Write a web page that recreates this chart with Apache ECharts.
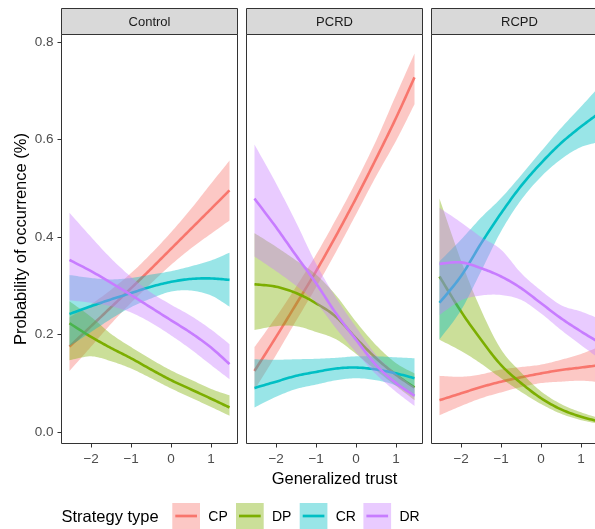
<!DOCTYPE html>
<html>
<head>
<meta charset="utf-8">
<script src="https://cdn.jsdelivr.net/npm/echarts@6/dist/echarts.min.js"></script>
<style>
  html, body { margin: 0; padding: 0; background: #ffffff; }
  #chart { width: 595px; height: 529px; }
</style>
</head>
<body>
<div id="chart"></div>
<script>
// Generalized trust values at which the fitted curves are evaluated
const trust = [-2.54, -2, -1.5, -1, -0.5, 0, 0.5, 1, 1.46];

const panels = ['Control', 'PCRD', 'RCPD'];
const strategies = ['CP', 'DP', 'CR', 'DR'];
const strategyColors = ['#F8766D', '#7CAE00', '#00BFC4', '#C77CFF'];

const xTicks = [-2, -1, 0, 1];
const yTicks = [0, 0.2, 0.4, 0.6, 0.8];

// ---- Control ----
const controlCP     = [0.175, 0.217, 0.256, 0.295, 0.335, 0.376, 0.417, 0.458, 0.496];
const controlCPLow  = [0.125, 0.175, 0.222, 0.265, 0.305, 0.343, 0.377, 0.407, 0.434];
const controlCPHigh = [0.235, 0.262, 0.292, 0.326, 0.366, 0.410, 0.458, 0.510, 0.557];
const controlDP     = [0.223, 0.195, 0.172, 0.151, 0.128, 0.106, 0.087, 0.068, 0.050];
const controlDPLow  = [0.147, 0.155, 0.145, 0.130, 0.110, 0.089, 0.070, 0.051, 0.033];
const controlDPHigh = [0.268, 0.236, 0.201, 0.174, 0.149, 0.126, 0.107, 0.088, 0.075];
const controlCR     = [0.242, 0.258, 0.272, 0.285, 0.298, 0.308, 0.314, 0.315, 0.312];
const controlCRLow  = [0.176, 0.205, 0.232, 0.256, 0.274, 0.288, 0.290, 0.280, 0.257];
const controlCRHigh = [0.322, 0.316, 0.313, 0.316, 0.323, 0.330, 0.340, 0.352, 0.368];
const controlDR     = [0.353, 0.330, 0.306, 0.281, 0.255, 0.229, 0.203, 0.173, 0.139];
const controlDRLow  = [0.270, 0.265, 0.258, 0.245, 0.224, 0.198, 0.169, 0.137, 0.108];
const controlDRHigh = [0.450, 0.400, 0.356, 0.318, 0.286, 0.261, 0.238, 0.210, 0.180];

// ---- PCRD ----
const pcrdCP     = [0.125, 0.195, 0.262, 0.330, 0.403, 0.480, 0.561, 0.645, 0.728];
const pcrdCPLow  = [0.086, 0.158, 0.228, 0.297, 0.370, 0.447, 0.525, 0.598, 0.673];
const pcrdCPHigh = [0.174, 0.236, 0.298, 0.364, 0.437, 0.514, 0.598, 0.692, 0.777];
const pcrdDP     = [0.303, 0.298, 0.285, 0.264, 0.236, 0.192, 0.151, 0.117, 0.091];
const pcrdDPLow  = [0.209, 0.217, 0.217, 0.205, 0.190, 0.160, 0.126, 0.094, 0.065];
const pcrdDPHigh = [0.408, 0.380, 0.352, 0.323, 0.280, 0.226, 0.178, 0.141, 0.120];
const pcrdCR     = [0.090, 0.103, 0.115, 0.123, 0.130, 0.132, 0.128, 0.120, 0.110];
const pcrdCRLow  = [0.050, 0.072, 0.088, 0.097, 0.106, 0.110, 0.106, 0.095, 0.072];
const pcrdCRHigh = [0.149, 0.148, 0.149, 0.150, 0.152, 0.155, 0.155, 0.153, 0.151];
const pcrdDR     = [0.479, 0.420, 0.362, 0.305, 0.243, 0.189, 0.137, 0.100, 0.074];
const pcrdDRLow  = [0.360, 0.330, 0.300, 0.265, 0.212, 0.163, 0.118, 0.082, 0.053];
const pcrdDRHigh = [0.590, 0.510, 0.430, 0.345, 0.275, 0.215, 0.158, 0.120, 0.092];

// ---- RCPD ----
const rcpdCP     = [0.065, 0.079, 0.092, 0.103, 0.112, 0.120, 0.127, 0.132, 0.137];
const rcpdCPLow  = [0.034, 0.053, 0.069, 0.081, 0.092, 0.100, 0.103, 0.105, 0.102];
const rcpdCPHigh = [0.115, 0.113, 0.118, 0.128, 0.133, 0.138, 0.148, 0.160, 0.175];
const rcpdDP     = [0.319, 0.247, 0.189, 0.137, 0.100, 0.069, 0.046, 0.031, 0.021];
const rcpdDPLow  = [0.189, 0.166, 0.140, 0.110, 0.082, 0.057, 0.037, 0.024, 0.016];
const rcpdDPHigh = [0.479, 0.351, 0.250, 0.169, 0.122, 0.083, 0.057, 0.040, 0.028];
const rcpdCR     = [0.265, 0.320, 0.387, 0.449, 0.505, 0.552, 0.593, 0.627, 0.655];
const rcpdCRLow  = [0.190, 0.250, 0.330, 0.412, 0.476, 0.524, 0.560, 0.585, 0.595];
const rcpdCRHigh = [0.350, 0.395, 0.440, 0.480, 0.527, 0.576, 0.624, 0.668, 0.710];
const rcpdDR     = [0.345, 0.348, 0.336, 0.319, 0.295, 0.264, 0.233, 0.206, 0.183];
const rcpdDRLow  = [0.240, 0.270, 0.280, 0.281, 0.271, 0.243, 0.209, 0.178, 0.150];
const rcpdDRHigh = [0.460, 0.430, 0.400, 0.374, 0.326, 0.290, 0.260, 0.247, 0.232];

// Per panel, per strategy: [fit, lower, upper]
const curves = [
  [[controlCP, controlCPLow, controlCPHigh], [controlDP, controlDPLow, controlDPHigh],
   [controlCR, controlCRLow, controlCRHigh], [controlDR, controlDRLow, controlDRHigh]],
  [[pcrdCP, pcrdCPLow, pcrdCPHigh], [pcrdDP, pcrdDPLow, pcrdDPHigh],
   [pcrdCR, pcrdCRLow, pcrdCRHigh], [pcrdDR, pcrdDRLow, pcrdDRHigh]],
  [[rcpdCP, rcpdCPLow, rcpdCPHigh], [rcpdDP, rcpdDPLow, rcpdDPHigh],
   [rcpdCR, rcpdCRLow, rcpdCRHigh], [rcpdDR, rcpdDRLow, rcpdDRHigh]]
];

// ---- layout ----
const FONT = "'Liberation Sans', Arial, Helvetica, sans-serif";
const PANEL_LEFT = [61.5, 246.5, 431.5];
const PANEL_W = 176;
const PANEL_TOP = 34.5;
const PANEL_H = 409;
const STRIP_TOP = 8.5;
const X_MIN = -2.74, X_MAX = 1.66;
const Y_MIN = -0.024, Y_MAX = 0.816;
const BORDER = '#333333';

function hexToRgba(hex, a) {
  const n = parseInt(hex.slice(1), 16);
  return 'rgba(' + ((n >> 16) & 255) + ',' + ((n >> 8) & 255) + ',' + (n & 255) + ',' + a + ')';
}

// Catmull-Rom through pixel points, for smooth curves
function splinePixels(pts, steps) {
  const out = [];
  for (let i = 0; i < pts.length - 1; i++) {
    const p0 = pts[Math.max(i - 1, 0)], p1 = pts[i], p2 = pts[i + 1], p3 = pts[Math.min(i + 2, pts.length - 1)];
    for (let k = 0; k < steps; k++) {
      const s = k / steps, s2 = s * s, s3 = s2 * s;
      out.push([0, 1].map(d => 0.5 * (2 * p1[d] + (-p0[d] + p2[d]) * s +
        (2 * p0[d] - 5 * p1[d] + 4 * p2[d] - p3[d]) * s2 +
        (-p0[d] + 3 * p1[d] - 3 * p2[d] + p3[d]) * s3)));
    }
  }
  out.push(pts[pts.length - 1]);
  return out;
}

function ribbonSeries(p, s) {
  const lo = curves[p][s][1], hi = curves[p][s][2];
  const fill = hexToRgba(strategyColors[s], 0.4);
  return {
    type: 'custom',
    name: strategies[s] + ' band',
    xAxisIndex: p, yAxisIndex: p,
    silent: true,
    data: trust.map((t, i) => [t, lo[i], hi[i]]),
    encode: { x: 0, y: [1, 2] },
    renderItem: function (params, api) {
      if (params.dataIndex !== 0) return null;
      const upper = trust.map((t, i) => api.coord([t, hi[i]]));
      const lower = trust.map((t, i) => api.coord([t, lo[i]]));
      const pts = splinePixels(upper, 12).concat(splinePixels(lower, 12).reverse());
      return { type: 'polygon', shape: { points: pts }, style: { fill: fill, stroke: null } };
    }
  };
}

function lineSeries(p, s) {
  const fit = curves[p][s][0];
  return {
    type: 'custom',
    name: strategies[s],
    xAxisIndex: p, yAxisIndex: p,
    silent: true,
    data: trust.map((t, i) => [t, fit[i]]),
    encode: { x: 0, y: 1 },
    renderItem: function (params, api) {
      if (params.dataIndex !== 0) return null;
      const pts = splinePixels(trust.map((t, i) => api.coord([t, fit[i]])), 12);
      return {
        type: 'polyline', shape: { points: pts },
        style: { stroke: strategyColors[s], lineWidth: 2.6, fill: null, lineJoin: 'round' }
      };
    }
  };
}

const series = [];
panels.forEach((_, p) => {
  strategies.forEach((_, s) => {
    series.push(ribbonSeries(p, s));
    series.push(lineSeries(p, s));
  });
});

const grids = panels.map((_, p) => ({
  left: PANEL_LEFT[p], top: PANEL_TOP, width: PANEL_W, height: PANEL_H,
  outerBoundsMode: 'none', containLabel: false,
  show: true, borderColor: BORDER, borderWidth: 1, backgroundColor: 'transparent'
}));

const xAxes = panels.map((_, p) => ({
  type: 'value', gridIndex: p, min: X_MIN, max: X_MAX, position: 'bottom',
  axisLine: { show: false, onZero: false },
  splitLine: { show: false },
  axisTick: { show: true, length: 4, customValues: xTicks, lineStyle: { color: BORDER, width: 1 } },
  axisLabel: {
    customValues: xTicks, margin: 9, color: '#4D4D4D', fontSize: 13.5, fontFamily: FONT,
    formatter: v => (v < 0 ? '\u2212' + Math.abs(v) : String(v))
  },
  name: p === 1 ? 'Generalized trust' : '',
  nameLocation: 'middle', nameGap: 25,
  nameTextStyle: { color: '#000', fontSize: 16.5, fontFamily: FONT }
}));

const yAxes = panels.map((_, p) => ({
  type: 'value', gridIndex: p, min: Y_MIN, max: Y_MAX, position: 'left',
  axisLine: { show: false, onZero: false },
  splitLine: { show: false },
  axisTick: { show: p === 0, length: 4, customValues: yTicks, lineStyle: { color: BORDER, width: 1 } },
  axisLabel: {
    show: p === 0, customValues: yTicks, margin: 8, color: '#4D4D4D', fontSize: 13.5, fontFamily: FONT,
    formatter: v => v.toFixed(1)
  },
  name: p === 0 ? 'Probability of occurrence (%)' : '',
  nameLocation: 'middle', nameGap: 32, nameRotate: 90,
  nameTextStyle: { color: '#000', fontSize: 16.5, fontFamily: FONT }
}));

// Facet strips
const graphics = [];
panels.forEach((name, p) => {
  graphics.push({
    type: 'rect', silent: true,
    shape: { x: PANEL_LEFT[p], y: STRIP_TOP, width: PANEL_W, height: PANEL_TOP - STRIP_TOP },
    style: { fill: '#D9D9D9', stroke: BORDER, lineWidth: 1 }
  });
  graphics.push({
    type: 'text', silent: true,
    x: PANEL_LEFT[p] + PANEL_W / 2, y: (STRIP_TOP + PANEL_TOP) / 2 + 0.5,
    style: { text: name, fill: '#1A1A1A', font: '13px ' + FONT, align: 'center', verticalAlign: 'middle' }
  });
});

// Legend: title, then a filled key with a line for each strategy
const LEG_Y = 517;
graphics.push({
  type: 'text', silent: true, x: 61.5, y: LEG_Y,
  style: { text: 'Strategy type', fill: '#000', font: '16.5px ' + FONT, align: 'left', verticalAlign: 'middle' }
});
strategies.forEach((name, s) => {
  const kx = 172.3 + s * 63.7;
  graphics.push({
    type: 'rect', silent: true,
    shape: { x: kx, y: 503, width: 27.7, height: 26 },
    style: { fill: hexToRgba(strategyColors[s], 0.4) }
  });
  graphics.push({
    type: 'line', silent: true,
    shape: { x1: kx + 3, y1: 516, x2: kx + 24.7, y2: 516 },
    style: { stroke: strategyColors[s], lineWidth: 2.7 }
  });
  graphics.push({
    type: 'text', silent: true, x: kx + 36, y: LEG_Y,
    style: { text: name, fill: '#000', font: '14px ' + FONT, align: 'left', verticalAlign: 'middle' }
  });
});

const chart = echarts.init(document.getElementById('chart'), null, { renderer: 'canvas' });
chart.setOption({
  animation: false,
  backgroundColor: '#ffffff',
  grid: grids,
  xAxis: xAxes,
  yAxis: yAxes,
  series: series,
  graphic: graphics
});
</script>
</body>
</html>
